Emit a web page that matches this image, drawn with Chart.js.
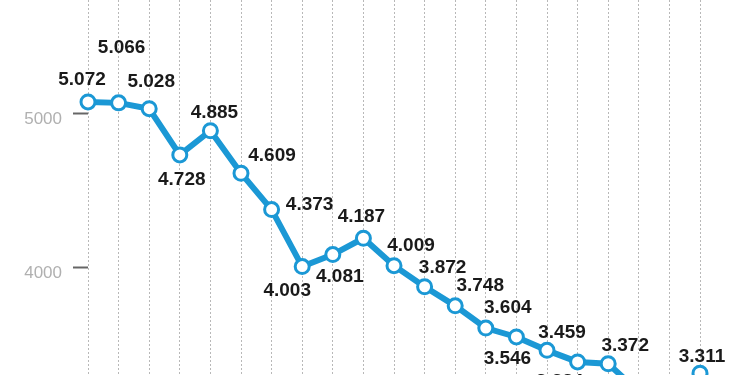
<!DOCTYPE html>
<html>
<head>
<meta charset="utf-8">
<script src="https://cdn.jsdelivr.net/npm/chart.js@4.4.1/dist/chart.umd.min.js"></script>
<style>
  html, body { margin: 0; padding: 0; background: #fff; }
  #wrap { width: 750px; height: 375px; }
</style>
</head>
<body>
<div id="wrap"><canvas id="chart" width="750" height="375"></canvas></div>
<script>
// data (points 18 and 19 fall below the visible area, estimated)
var categories = ['1', '2', '3', '4', '5', '6', '7', '8', '9', '10', '11',
                  '12', '13', '14', '15', '16', '17', '18', '19', '20', '21'];
var values = [5072, 5066, 5028, 4728, 4885, 4609, 4373, 4003, 4081, 4187, 4009,
              3872, 3748, 3604, 3546, 3459, 3384, 3372, 3190, 3160, 3311];
var yTicks = [4000, 5000];

// where each value label sits relative to its point [dx, dy]
var labelOffsets = [
  [-6, -22], [3, -55], [2, -27], [2, 25], [4, -18], [31, -17], [38, -5],
  [-15, 24], [7, 22], [-2, -21], [17, -20], [18, -19], [25, -20], [22, -20],
  [-9, 22], [15, -18], [-18, 20], [17, -18], [0, 30], [0, 30], [2, -16]
];

var blue = '#1b98d5';

var valueLabels = {
  id: 'valueLabels',
  afterDatasetsDraw: function (chart) {
    var ctx = chart.ctx;
    var meta = chart.getDatasetMeta(0);
    ctx.save();
    ctx.font = 'bold 19px "Liberation Sans", Arial, sans-serif';
    ctx.fillStyle = '#1a1a1a';
    ctx.textAlign = 'center';
    ctx.textBaseline = 'middle';
    meta.data.forEach(function (pt, i) {
      var off = labelOffsets[i];
      var txt = (values[i] / 1000).toFixed(3);
      ctx.fillText(txt, pt.x + off[0], pt.y + off[1]);
    });
    ctx.restore();
  }
};

function noPad(scale) {
  scale.paddingTop = 0;
  scale.paddingBottom = 0;
  scale.paddingLeft = 0;
  scale.paddingRight = 0;
}

var ctx = document.getElementById('chart').getContext('2d');
var chart = new Chart(ctx, {
  type: 'line',
  data: {
    labels: categories,
    datasets: [{
      data: values,
      borderColor: blue,
      borderWidth: 6,
      pointRadius: 7,
      pointBorderWidth: 3,
      pointBackgroundColor: '#ffffff',
      pointBorderColor: blue,
      tension: 0
    }]
  },
  options: {
    responsive: false,
    animation: false,
    layout: { autoPadding: false, padding: { left: 0, right: 50, top: 0, bottom: 0 } },
    plugins: {
      legend: { display: false },
      tooltip: { enabled: false }
    },
    scales: {
      x: {
        offset: false,
        ticks: { display: false },
        grid: { color: '#b8b8b8', lineWidth: 1, drawTicks: false },
        border: { display: false, dash: [2, 2] },
        afterFit: function (scale) { scale.height = 0; noPad(scale); }
      },
      y: {
        min: 3299,
        max: 5734,
        afterBuildTicks: function (scale) {
          scale.ticks = yTicks.map(function (v) { return { value: v }; });
        },
        afterFit: function (scale) { scale.width = 88; noPad(scale); },
        ticks: {
          color: '#b0b0b0',
          font: { family: '"Liberation Sans", Arial, sans-serif', size: 17 },
          padding: 11,
          labelOffset: 6,
          callback: function (v) { return String(v); }
        },
        grid: { drawOnChartArea: false, drawTicks: true, tickLength: 15, tickColor: '#666666', tickWidth: 2 },
        border: { display: false }
      }
    }
  },
  plugins: [valueLabels]
});
</script>
</body>
</html>
